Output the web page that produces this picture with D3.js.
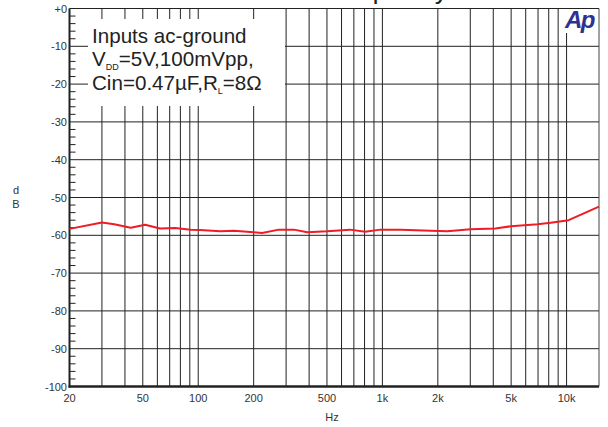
<!DOCTYPE html>
<html>
<head>
<meta charset="utf-8">
<script src="https://cdn.jsdelivr.net/npm/d3@7"></script>
<style>
  body { margin: 0; background: #fff; }
  svg { display: block; font-family: "Liberation Sans", Arial, sans-serif; }
</style>
</head>
<body>
<script>
// curve (Hz, dB)
const freqs = [20, 30, 35, 43, 51.5, 62, 75, 91, 102, 132, 156, 200, 222, 274, 331, 391, 501, 667, 806, 976, 1259, 1834, 2253, 3010, 4100, 4990, 6970, 8190, 10260, 15000]
const dbVals = [-58.3, -56.6, -57.1, -58.0, -57.2, -58.2, -58.1, -58.5, -58.6, -58.9, -58.8, -59.2, -59.4, -58.5, -58.5, -59.2, -58.95, -58.5, -59.05, -58.5, -58.5, -58.8, -58.9, -58.4, -58.2, -57.6, -57.1, -56.7, -56.0, -52.4]

const xTicks = [20, 50, 100, 200, 500, 1000, 2000, 5000, 10000]
const xTickLabels = ["20", "50", "100", "200", "500", "1k", "2k", "5k", "10k"]
const xGrid = [30, 40, 50, 60, 70, 80, 90, 100, 200, 300, 400, 500, 600, 700, 800, 900,
  1000, 2000, 3000, 4000, 5000, 6000, 7000, 8000, 9000, 10000]
const yTicks = [0, -10, -20, -30, -40, -50, -60, -70, -80, -90, -100]
const yTickLabels = ["+0", "-10", "-20", "-30", "-40", "-50", "-60", "-70", "-80", "-90", "-100"]

const width = 608, height = 427

const x = d3.scaleLog().domain([20, 15000]).range([69.5, 599])
const y = d3.scaleLinear().domain([-100, 0]).range([386.5, 8.5])

const svg = d3.select("body").append("svg")
  .attr("width", width)
  .attr("height", height)

// title, mostly cut off above the picture (only descenders show)
svg.append("text")
  .attr("x", 330).attr("y", -1)
  .attr("text-anchor", "middle")
  .attr("font-size", 26)
  .attr("fill", "#222")
  .text("PSRR vs Frequency")

/* grid */
svg.append("g")
  .selectAll("line")
  .data(xGrid)
  .join("line")
  .attr("x1", d => x(d)).attr("x2", d => x(d))
  .attr("y1", y(0)).attr("y2", y(-100))
  .attr("stroke", "#222")
  .attr("stroke-width", 1)

svg.append("g")
  .selectAll("line")
  .data(yTicks)
  .join("line")
  .attr("x1", x(20)).attr("x2", x(15000))
  .attr("y1", d => y(d)).attr("y2", d => y(d))
  .attr("stroke", "#222")
  .attr("stroke-width", 1)

/* minor ticks on the left, every 2 dB */
const minor = d3.range(0, -101, -2).filter(d => d % 10 !== 0)
svg.append("g")
  .selectAll("line")
  .data(minor)
  .join("line")
  .attr("x1", x(20)).attr("x2", x(20) + 6)
  .attr("y1", d => y(d)).attr("y2", d => y(d))
  .attr("stroke", "#222")
  .attr("stroke-width", 1)

// frame
svg.append("line")
  .attr("x1", x(15000)).attr("x2", x(15000))
  .attr("y1", y(0)).attr("y2", y(-100))
  .attr("stroke", "#444").attr("stroke-width", 1)
svg.append("line")
  .attr("x1", x(20)).attr("x2", x(20))
  .attr("y1", y(0)).attr("y2", y(-100) + 1)
  .attr("stroke", "#222").attr("stroke-width", 2)
svg.append("line")
  .attr("x1", x(20) - 1).attr("x2", x(15000))
  .attr("y1", y(-100)).attr("y2", y(-100))
  .attr("stroke", "#222").attr("stroke-width", 2.5)

/* annotation box */
svg.append("rect")
  .attr("x", 88).attr("y", 19)
  .attr("width", 197).attr("height", 87)
  .attr("fill", "#fff")

const note = svg.append("g").attr("fill", "#222").attr("font-size", 20.6)
note.append("text").attr("x", 92).attr("y", 43).text("Inputs ac-ground")
const l2 = note.append("text").attr("x", 92).attr("y", 66)
l2.append("tspan").text("V")
l2.append("tspan").attr("font-size", 9).attr("dy", 4).text("DD")
l2.append("tspan").attr("dy", -4).text("=5V,100mVpp,")
const l3 = note.append("text").attr("x", 92).attr("y", 90)
l3.append("tspan").text("Cin=0.47µF,R")
l3.append("tspan").attr("font-size", 9).attr("dy", 4).text("L")
l3.append("tspan").attr("dy", -4).text("=8Ω")

/* data line */
const pts = freqs.map((f, i) => [f, dbVals[i]])
svg.append("path")
  .datum(pts)
  .attr("fill", "none")
  .attr("stroke", "#ee1c25")
  .attr("stroke-width", 2)
  .attr("stroke-linejoin", "round")
  .attr("d", d3.line().x(d => x(d[0])).y(d => y(d[1])))

/* axis labels */
svg.append("g")
  .selectAll("text")
  .data(yTicks)
  .join("text")
  .attr("x", 67)
  .attr("y", d => y(d) + 4)
  .attr("text-anchor", "end")
  .attr("font-size", 11)
  .attr("fill", "#333")
  .text((d, i) => yTickLabels[i])

svg.append("g")
  .selectAll("text")
  .data(xTicks)
  .join("text")
  .attr("x", d => x(d))
  .attr("y", 402)
  .attr("text-anchor", "middle")
  .attr("font-size", 11)
  .attr("fill", "#333")
  .text((d, i) => xTickLabels[i])

svg.append("text")
  .attr("x", 332).attr("y", 421)
  .attr("text-anchor", "middle")
  .attr("font-size", 11).attr("fill", "#333")
  .text("Hz")

svg.append("text").attr("x", 16).attr("y", 194)
  .attr("text-anchor", "middle").attr("font-size", 11).attr("fill", "#333").text("d")
svg.append("text").attr("x", 16).attr("y", 208)
  .attr("text-anchor", "middle").attr("font-size", 11).attr("fill", "#333").text("B")

// Ap logo
svg.append("rect")
  .attr("x", 563).attr("y", 9).attr("width", 35).attr("height", 24)
  .attr("fill", "#fff")
svg.append("text")
  .attr("x", 565).attr("y", 28)
  .attr("font-size", 24)
  .attr("font-weight", "bold")
  .attr("font-style", "italic")
  .attr("fill", "#2e3192")
  .attr("letter-spacing", -1.5)
  .text("Ap")
</script>
</body>
</html>
